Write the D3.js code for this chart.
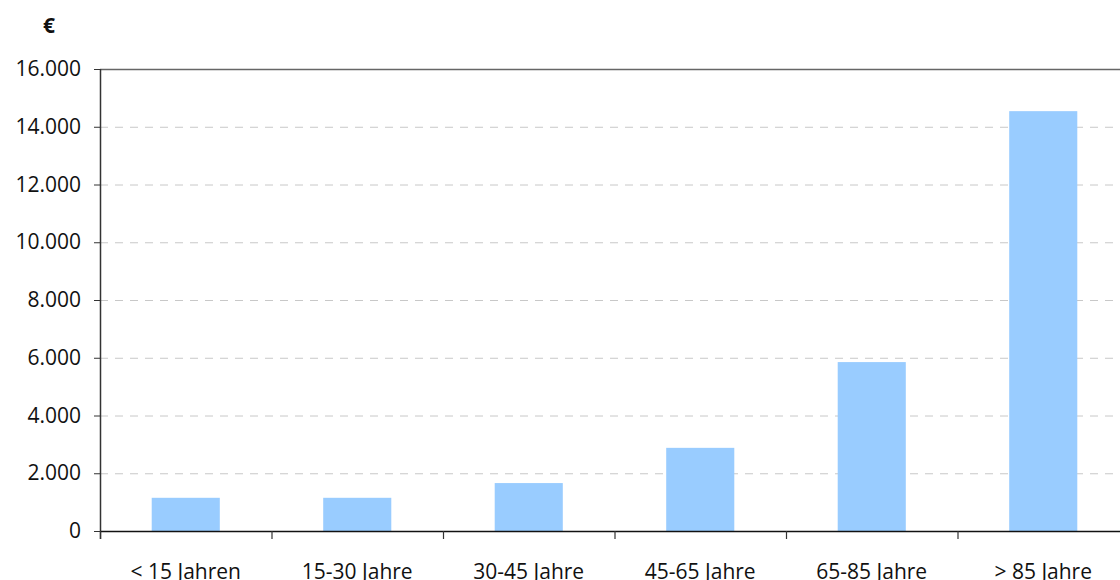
<!DOCTYPE html>
<html>
<head>
<meta charset="utf-8">
<script src="https://cdn.jsdelivr.net/npm/d3@7"></script>
<style>
  body { margin: 0; background: #fff; }
  svg text { font-family: "Open Sans", sans-serif; fill: #111; }
</style>
</head>
<body>
<svg id="chart" width="1120" height="580"></svg>
<script>
const categories = ["< 15 Jahren", "15-30 Jahre", "30-45 Jahre", "45-65 Jahre", "65-85 Jahre", "> 85 Jahre"];
const values = [1150, 1150, 1660, 2880, 5850, 14540];
const yTicks = [0, 2000, 4000, 6000, 8000, 10000, 12000, 14000, 16000];

const margin = { top: 69, left: 100, bottom: 49 };
const plotW = 1029;
const height = 580 - margin.top - margin.bottom;

const svg = d3.select("#chart");
const g = svg.append("g").attr("transform", `translate(${margin.left},${margin.top})`);

const x = d3.scaleBand().domain(categories).range([0, plotW]).paddingInner(0.603).paddingOuter(0.3015);
const y = d3.scaleLinear().domain([0, 16000]).range([height, 0]);

const fmt = d => d3.format(",")(d).replace(/,/g, ".");

// gridlines
g.selectAll(".grid")
  .data(yTicks.filter(d => d > 0 && d < 16000))
  .enter().append("line")
  .attr("x1", 0).attr("x2", plotW)
  .attr("y1", d => y(d) + 0.5).attr("y2", d => y(d) + 0.5)
  .attr("stroke", "#c8c8c8").attr("stroke-width", 1)
  .attr("stroke-dasharray", "8,7");

// top border
g.append("line")
  .attr("x1", 0).attr("x2", plotW)
  .attr("y1", 0.5).attr("y2", 0.5)
  .attr("stroke", "#666").attr("stroke-width", 1.5);

// bars
g.selectAll(".bar")
  .data(values)
  .enter().append("rect")
  .attr("x", (d, i) => x(categories[i]))
  .attr("width", x.bandwidth())
  .attr("y", d => y(d))
  .attr("height", d => height - y(d))
  .attr("fill", "#99ccff");

// y axis
const yAxis = g.append("g")
  .call(d3.axisLeft(y).tickValues(yTicks).tickSize(6).tickSizeOuter(0).tickFormat(fmt));
yAxis.select(".domain").remove();
yAxis.append("line").attr("x1", 0.5).attr("x2", 0.5).attr("y1", 0).attr("y2", height + 8)
  .attr("stroke", "#333").attr("stroke-width", 1.5);
yAxis.selectAll(".tick line").attr("stroke", "#333");
yAxis.selectAll("text").attr("x", -19).attr("font-size", 21).attr("fill", "#111")
  .style("font-family", "Open Sans, sans-serif");

// x axis
const bounds = d3.range(categories.length).map(i => i * x.step());
g.append("line").attr("x1", 0).attr("x2", plotW).attr("y1", height + 0.5).attr("y2", height + 0.5)
  .attr("stroke", "#111").attr("stroke-width", 1.5);
g.selectAll(".xtick").data(bounds).enter().append("line")
  .attr("x1", d => d + 0.5).attr("x2", d => d + 0.5)
  .attr("y1", height).attr("y2", height + 8)
  .attr("stroke", "#333").attr("stroke-width", 1.2);
g.selectAll(".xlabel").data(categories).enter().append("text")
  .attr("x", d => x(d) + x.bandwidth() / 2)
  .attr("y", height + 48)
  .attr("text-anchor", "middle")
  .attr("font-size", 21)
  .text(d => d);

// unit
svg.append("text").attr("x", 49).attr("y", 33).attr("text-anchor", "middle")
  .attr("font-size", 21).attr("font-weight", "bold").text("€");
</script>
</body>
</html>
